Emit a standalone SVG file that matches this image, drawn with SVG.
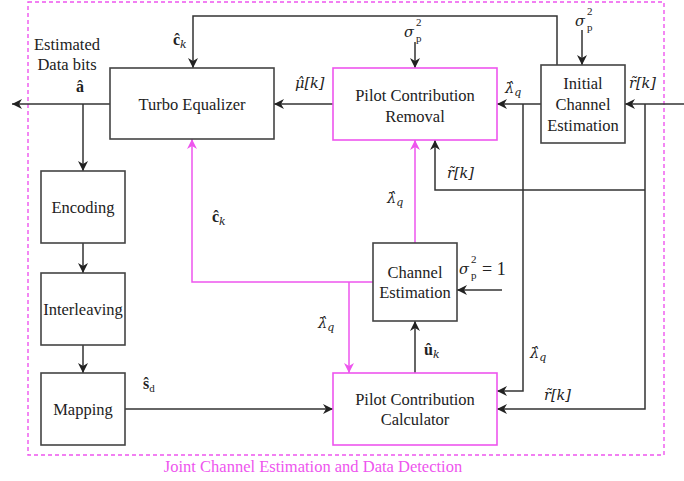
<svg xmlns="http://www.w3.org/2000/svg" width="684" height="481" viewBox="0 0 684 481" font-family="Liberation Serif">
<style>
.box{fill:#fff;stroke:#444;stroke-width:1.6}
.mbox{fill:#fff;stroke:#ee55ee;stroke-width:1.6}
.ln{fill:none;stroke:#333;stroke-width:1.5}
.mln{fill:none;stroke:#ee55ee;stroke-width:1.5}
.t{font-size:16.5px;fill:#222;text-anchor:middle}
.m{font-size:14.5px;fill:#222;font-style:italic}
.mb{font-size:16px;fill:#222;font-weight:bold}
.sub{font-size:11px;fill:#222}
.up{fill:#222}
</style>
<defs>
<marker id="ak" viewBox="0 0 10 10" refX="10" refY="5" markerWidth="10" markerHeight="10" markerUnits="userSpaceOnUse" orient="auto"><path d="M0,0 L10,5 L0,10 L3,5 Z" fill="#222"/></marker>
<marker id="am" viewBox="0 0 10 10" refX="10" refY="5" markerWidth="10" markerHeight="10" markerUnits="userSpaceOnUse" orient="auto"><path d="M0,0 L10,5 L0,10 L3,5 Z" fill="#ee55ee"/></marker>
</defs>
<rect width="684" height="481" fill="#fff"/>
<g id="frame">
<rect x="28" y="2" width="636" height="453" fill="none" stroke="#ee55ee" stroke-width="1.4" stroke-dasharray="4,3"/>
<text x="313" y="472" font-family="Liberation Serif" font-size="16.5" fill="#ee55ee" text-anchor="middle">Joint Channel Estimation and Data Detection</text>
</g>
<g id="connectors">
<path class="ln" d="M557,65 V16 H193 V68" marker-end="url(#ak)"/>
<path class="ln" d="M684,104 H625" marker-end="url(#ak)"/>
<path class="ln" d="M645,104 V409 H497" marker-end="url(#ak)"/>
<path class="ln" d="M645,190 H435 V140" marker-end="url(#ak)"/>
<path class="ln" d="M541,104 H497" marker-end="url(#ak)"/>
<path class="ln" d="M523,104 V391 H497" marker-end="url(#ak)"/>
<path class="ln" d="M333,104 H274" marker-end="url(#ak)"/>
<path class="ln" d="M110,104 H12" marker-end="url(#ak)"/>
<path class="ln" d="M83,104 V171" marker-end="url(#ak)"/>
<path class="ln" d="M83,243 V273" marker-end="url(#ak)"/>
<path class="ln" d="M83,345 V373" marker-end="url(#ak)"/>
<path class="ln" d="M125,409 H333" marker-end="url(#ak)"/>
<path class="ln" d="M582,30 V65" marker-end="url(#ak)"/>
<path class="ln" d="M415,42 V68" marker-end="url(#ak)"/>
<path class="ln" d="M502,290 H457" marker-end="url(#ak)"/>
<path class="ln" d="M415,373 V321" marker-end="url(#ak)"/>
<path class="mln" d="M415,243 V140" marker-end="url(#am)"/>
<path class="mln" d="M373,282 H192 V139" marker-end="url(#am)"/>
<path class="mln" d="M349,282 V373" marker-end="url(#am)"/>
</g>
<g id="turbo">
<rect class="box" x="110" y="68" width="164" height="71"/>
<text class="t" x="192" y="110" font-family="Liberation Serif">Turbo Equalizer</text>
</g>
<g id="pcr">
<rect class="mbox" x="333" y="68" width="164" height="72"/>
<text class="t" x="415" y="101" font-family="Liberation Serif">Pilot Contribution</text>
<text class="t" x="415" y="122" font-family="Liberation Serif">Removal</text>
</g>
<g id="ice">
<rect class="box" x="541" y="65" width="84" height="78"/>
<text class="t" x="583" y="89" font-family="Liberation Serif">Initial</text>
<text class="t" x="583" y="110" font-family="Liberation Serif">Channel</text>
<text class="t" x="583" y="131" font-family="Liberation Serif">Estimation</text>
</g>
<g id="encoding">
<rect class="box" x="41" y="171" width="84" height="72"/>
<text class="t" x="83" y="213" font-family="Liberation Serif">Encoding</text>
</g>
<g id="interleaving">
<rect class="box" x="41" y="273" width="84" height="72"/>
<text class="t" x="83" y="315" font-family="Liberation Serif">Interleaving</text>
</g>
<g id="mapping">
<rect class="box" x="41" y="373" width="84" height="72"/>
<text class="t" x="83" y="415" font-family="Liberation Serif">Mapping</text>
</g>
<g id="ce">
<rect class="box" x="373" y="243" width="84" height="78"/>
<text class="t" x="415" y="278" font-family="Liberation Serif">Channel</text>
<text class="t" x="415" y="298" font-family="Liberation Serif">Estimation</text>
</g>
<g id="pcc">
<rect class="mbox" x="333" y="373" width="164" height="72"/>
<text class="t" x="415" y="405" font-family="Liberation Serif">Pilot Contribution</text>
<text class="t" x="415" y="425" font-family="Liberation Serif">Calculator</text>
</g>
<g id="labels">
<text class="t" x="67" y="50" font-family="Liberation Serif">Estimated</text>
<text class="t" x="67" y="70" font-family="Liberation Serif">Data bits</text>
<text class="mb" x="76" y="92" font-family="Liberation Serif">â</text>
<text x="173" y="45"><tspan class="mb" font-family="Liberation Serif">ĉ</tspan><tspan class="sub" font-family="DejaVu Serif" font-style="italic" dy="3">k</tspan></text>
<text class="m" x="295" y="88" font-family="DejaVu Serif">μ̂[k]</text>
<text x="505" y="93"><tspan class="m" font-family="DejaVu Serif">λ̂</tspan><tspan class="sub" font-family="DejaVu Serif" font-style="italic" dy="3">q</tspan></text>
<text class="m" x="629" y="88" font-family="DejaVu Serif">r̃[k]</text>
<text class="m" x="447" y="178" font-family="DejaVu Serif">r̃[k]</text>
<text x="387" y="203"><tspan class="m" font-family="DejaVu Serif">λ̂</tspan><tspan class="sub" font-family="DejaVu Serif" font-style="italic" dy="3">q</tspan></text>
<text x="212" y="222"><tspan class="mb" font-family="Liberation Serif">ĉ</tspan><tspan class="sub" font-family="DejaVu Serif" font-style="italic" dy="3">k</tspan></text>
<text x="318" y="328"><tspan class="m" font-family="DejaVu Serif">λ̂</tspan><tspan class="sub" font-family="DejaVu Serif" font-style="italic" dy="3">q</tspan></text>
<text x="530" y="358"><tspan class="m" font-family="DejaVu Serif">λ̂</tspan><tspan class="sub" font-family="DejaVu Serif" font-style="italic" dy="3">q</tspan></text>
<text x="424" y="355"><tspan class="mb" font-family="Liberation Serif">û</tspan><tspan class="sub" font-family="DejaVu Serif" font-style="italic" dy="3">k</tspan></text>
<text x="143" y="389"><tspan class="mb" font-family="Liberation Serif">ŝ</tspan><tspan class="sub" font-family="Liberation Serif" font-size="13" dy="3">d</tspan></text>
<text class="m" x="544" y="400" font-family="DejaVu Serif">r̃[k]</text>
<text class="m" x="575" y="26" font-size="17" font-family="DejaVu Serif">σ</text>
<text class="sub" x="587" y="15" font-size="12" font-family="Liberation Serif">2</text>
<text class="sub" x="587" y="31" font-size="12" font-family="Liberation Serif">p</text>
<text class="m" x="404" y="37" font-size="17" font-family="DejaVu Serif">σ</text>
<text class="sub" x="416" y="26" font-size="12" font-family="Liberation Serif">2</text>
<text class="sub" x="416" y="42" font-size="12" font-family="Liberation Serif">p</text>
<text class="m" x="459" y="274" font-size="17" font-family="DejaVu Serif">σ</text>
<text class="sub" x="471" y="263" font-size="12" font-family="Liberation Serif">2</text>
<text class="sub" x="471" y="279" font-size="12" font-family="Liberation Serif">p</text>
<text class="up" x="482" y="275" font-size="18" font-family="Liberation Serif">= 1</text>
</g>
</svg>
